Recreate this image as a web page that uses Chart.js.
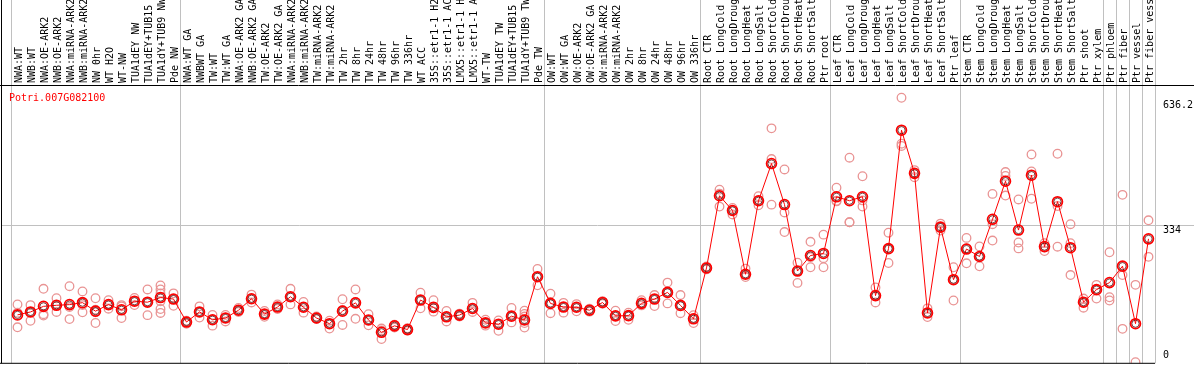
<!DOCTYPE html>
<html>
<head>
<meta charset="utf-8">
<script src="https://cdn.jsdelivr.net/npm/chart.js@4.4.1/dist/chart.umd.min.js"></script>
<style>
  html, body { margin: 0; padding: 0; background: #fff; }
  #wrap { width: 1194px; height: 370px; }
</style>
</head>
<body>
<div id="wrap"><canvas id="chart" width="1194" height="370"></canvas></div>
<script>
const geneId = 'Potri.007G082100';

const categories = [
  'NWA:WT', 'NWB:WT', 'NWA:OE-ARK2', 'NWB:OE-ARK2', 'NWA:miRNA-ARK2', 'NWB:miRNA-ARK2', 'NW 0hr', 'WT H2O', 'WT-NW',
  'TUA1dEY NW', 'TUA1dEY+TUB15', 'TUA1dY+TUB9 NW', 'Pde NW',
  'NWA:WT GA', 'NWBWT GA', 'TW:WT', 'TW:WT GA', 'NWA:OE-ARK2 GA', 'NWB:OE-ARK2 GA', 'TW:OE-ARK2', 'TW:OE-ARK2 GA',
  'NWA:miRNA-ARK2', 'NWB:miRNA-ARK2', 'TW:miRNA-ARK2', 'TW:miRNA-ARK2', 'TW 2hr', 'TW 8hr', 'TW 24hr', 'TW 48hr',
  'TW 96hr', 'TW 336hr', 'WT ACC', '35S::etr1-1 H2O', '35S::etr1-1 ACC', 'LMX5::etr1-1 H2O', 'LMX5::etr1-1 ACC',
  'WT-TW', 'TUA1dEY TW', 'TUA1dEY+TUB15', 'TUA1dY+TUB9 TW', 'Pde TW',
  'OW:WT', 'OW:WT GA', 'OW:OE-ARK2', 'OW:OE-ARK2 GA', 'OW:miRNA-ARK2', 'OW:miRNA-ARK2', 'OW 2hr', 'OW 8hr',
  'OW 24hr', 'OW 48hr', 'OW 96hr', 'OW 336hr',
  'Root CTR', 'Root LongCold', 'Root LongDrought', 'Root LongHeat', 'Root LongSalt', 'Root ShortCold',
  'Root ShortDrought', 'Root ShortHeat', 'Root ShortSalt', 'Ptr root',
  'Leaf CTR', 'Leaf LongCold', 'Leaf LongDrought', 'Leaf LongHeat', 'Leaf LongSalt', 'Leaf ShortCold',
  'Leaf ShortDrought', 'Leaf ShortHeat', 'Leaf ShortSalt', 'Ptr leaf',
  'Stem CTR', 'Stem LongCold', 'Stem LongDrought', 'Stem LongHeat', 'Stem LongSalt', 'Stem ShortCold',
  'Stem ShortDrought', 'Stem ShortHeat', 'Stem ShortSalt', 'Ptr shoot', 'Ptr xylem',
  'Ptr phloem', 'Ptr fiber', 'Ptr vessel', 'Ptr fiber vessel',
];

// index of the first category of each group, plus the end
const groupStarts = [0, 13, 41, 53, 63, 73, 84, 85, 86, 87, 88];

const means = [
  117.1, 124.2, 137.7, 140.3, 141.9, 146.7, 126.1, 141.9, 129.4, 150.2, 147.8, 159.0, 155.4,
  99.8, 124.2, 105.3, 109.5, 128.4, 156.1, 119.0, 136.0, 160.9, 135.5, 109.5, 95.8, 126.1, 146.2,
  104.8, 75.0, 90.6, 81.6, 153.0, 135.3, 112.4, 116.6, 132.5, 97.7, 94.6, 114.0, 104.8, 209.3,
  144.8, 136.0, 135.5, 128.4, 147.1, 114.7, 115.2, 145.0, 155.4, 171.5, 140.0, 107.6,
  230.6, 405.2, 369.5, 215.3, 393.1, 483.0, 383.9, 223.1, 260.7, 265.6,
  402.6, 393.1, 402.8, 163.7, 277.2, 563.7, 459.4, 121.8, 329.3, 202.2,
  276.3, 258.3, 348.2, 440.4, 322.2, 454.9, 282.2, 390.8, 279.6, 147.8, 178.1,
  195.2, 234.9, 95.8, 300.9,
];

const replicates = [
  [142.4, 122.2, 87.1], [140.7, 124.2, 102.9], [180.2, 118.7, 115.4], [157.3, 140.7, 124.2],
  [186.4, 136.0, 106.9], [173.9, 140.7, 123.5], [157.3, 129.6, 123.5, 97.5], [152.6, 141.9, 132.0],
  [140.7, 137.7, 109.3], [158.0, 150.2, 140.7], [178.6, 147.8, 116.4],
  [188.1, 178.6, 169.1, 150.2, 131.3, 121.8], [169.1, 154.9, 139.1],
  [102.9, 99.8, 95.8], [137.7, 124.2, 110.7], [117.1, 105.3, 91.1], [117.1, 110.0, 101.2],
  [133.7, 128.4, 124.2], [166.1, 156.1, 147.1], [126.6, 119.0, 112.4], [142.4, 136.0, 131.3],
  [180.2, 160.9, 142.4], [148.5, 135.5, 122.5], [113.1, 109.5, 106.9], [102.9, 95.8, 84.0],
  [154.9, 128.9, 92.7], [178.6, 148.5, 107.6], [118.7, 104.8, 91.8], [84.0, 79.2, 58.7],
  [93.4, 90.6, 86.3], [84.7, 81.6, 78.5], [170.8, 153.0, 132.9], [152.6, 135.3, 124.9],
  [126.6, 112.4, 101.2], [120.2, 116.6, 113.1], [146.2, 132.5, 124.2], [105.3, 97.7, 91.1],
  [103.6, 94.6, 78.5], [133.7, 114.0, 98.9], [127.3, 119.5, 113.1, 97.5, 86.3], [228.3, 209.3, 188.8],
  [168.4, 144.8, 121.1], [146.2, 136.0, 122.5], [143.1, 135.5, 125.8], [132.0, 128.4, 124.9],
  [150.2, 147.1, 143.8], [127.3, 114.7, 102.2], [122.5, 115.2, 105.3], [152.6, 145.0, 140.0],
  [165.1, 155.4, 138.4], [195.2, 171.5, 144.8], [165.1, 140.0, 121.1], [116.4, 107.6, 97.5],
  [234.2, 230.6, 227.1], [419.9, 410.4, 379.0], [375.6, 369.5, 360.0], [229.0, 215.3, 208.6],
  [404.0, 393.1, 382.0], [568.2, 493.9, 383.7], [468.8, 364.8, 317.4], [243.2, 223.5, 194.4],
  [293.8, 256.7, 232.3], [311.1, 254.3, 232.3],
  [424.6, 393.1, 391.5], [497.2, 341.1, 341.0], [452.3, 393.9, 379.0], [183.3, 163.7, 147.1],
  [315.8, 277.9, 242.5], [642.2, 531.1, 525.6], [467.2, 459.4, 449.9], [132.9, 121.8, 111.7],
  [337.8, 329.3, 321.0], [232.3, 202.2, 151.9],
  [303.3, 277.9, 241.8], [282.7, 259.0, 234.7], [409.7, 336.4, 296.9], [462.5, 453.0, 405.7],
  [396.2, 292.1, 277.9], [505.0, 464.1, 397.9], [290.5, 280.3, 271.6], [506.7, 380.4, 282.0],
  [336.4, 290.5, 213.4], [156.6, 147.8, 134.4], [189.7, 178.6, 156.6],
  [268.5, 159.7, 151.9], [407.3, 213.4, 83.3], [189.7, 2.8], [345.8, 257.4],
];

const yTicks = [0, 334, 636.2];
const yMax = 673;

const meanPoints = means.map((v, i) => ({ x: i, y: v }));
const replicatePoints = replicates.flatMap((vals, i) => vals.map((v) => ({ x: i, y: v })));

const monoFont = '10px "DejaVu Sans Mono", monospace';

const framePlugin = {
  id: 'frame',
  beforeDatasetsDraw(chart) {
    const { ctx, chartArea, scales: { x, y } } = chart;
    ctx.save();
    ctx.strokeStyle = '#c0c0c0';
    ctx.lineWidth = 1;
    ctx.beginPath();
    groupStarts.forEach((g) => {
      const px = Math.round(x.getPixelForValue(g - 0.5)) + 0.5;
      ctx.moveTo(px, 0);
      ctx.lineTo(px, chartArea.bottom);
    });
    yTicks.slice(1, -1).forEach((t) => {
      const py = Math.round(y.getPixelForValue(t)) + 0.5;
      ctx.moveTo(1, py);
      ctx.lineTo(chart.width, py);
    });
    ctx.stroke();
    ctx.restore();
  },
  afterDraw(chart) {
    const { ctx, chartArea, scales: { x, y } } = chart;
    ctx.save();
    ctx.strokeStyle = '#000';
    ctx.lineWidth = 1;
    ctx.beginPath();
    ctx.moveTo(0, chartArea.top + 0.5);
    ctx.lineTo(chart.width, chartArea.top + 0.5);
    ctx.moveTo(1.5, 0);
    ctx.lineTo(1.5, chartArea.bottom);
    ctx.moveTo(0, chartArea.bottom);
    ctx.lineTo(chartArea.right, chartArea.bottom);
    ctx.stroke();

    ctx.font = monoFont;
    ctx.fillStyle = '#000';
    ctx.textAlign = 'left';
    ctx.textBaseline = 'alphabetic';
    categories.forEach((name, i) => {
      ctx.save();
      ctx.translate(x.getPixelForValue(i) + 4.5, chartArea.top - 2);
      ctx.rotate(-Math.PI / 2);
      ctx.fillText(name, 0, 0);
      ctx.restore();
    });

    ctx.textBaseline = 'middle';
    yTicks.forEach((t) => {
      const py = Math.min(y.getPixelForValue(t) + 5, chartArea.bottom - 8);
      ctx.fillText(String(t), chartArea.right + 8, py);
    });

    ctx.fillStyle = '#ff0000';
    ctx.textBaseline = 'alphabetic';
    ctx.fillText(geneId, 9, chartArea.top + 16);
    ctx.restore();
  },
};

new Chart(document.getElementById('chart'), {
  type: 'line',
  data: {
    datasets: [
      {
        data: meanPoints,
        borderColor: '#ff0000',
        borderWidth: 1,
        pointRadius: 3.6,
        pointBorderColor: '#400000',
        pointBorderWidth: 0.7,
        pointBackgroundColor: 'rgba(0,0,0,0)',
        tension: 0,
        order: 1,
      },
      {
        data: meanPoints,
        showLine: false,
        pointRadius: 4.9,
        pointBorderColor: '#ff0000',
        pointBorderWidth: 1.8,
        pointBackgroundColor: 'rgba(0,0,0,0)',
        order: 2,
      },
      {
        data: replicatePoints,
        showLine: false,
        pointRadius: 4.3,
        pointBorderColor: '#e99494',
        pointBorderWidth: 1.3,
        pointBackgroundColor: 'rgba(0,0,0,0)',
        order: 3,
      },
    ],
  },
  options: {
    responsive: false,
    animation: false,
    layout: { padding: { left: 11, right: 39, top: 85, bottom: 0.5 } },
    scales: {
      x: { type: 'linear', min: -0.5, max: categories.length - 0.5, display: false },
      y: { min: 0, max: yMax, display: false },
    },
    plugins: { legend: { display: false }, tooltip: { enabled: false } },
  },
  plugins: [framePlugin],
});
</script>
</body>
</html>
